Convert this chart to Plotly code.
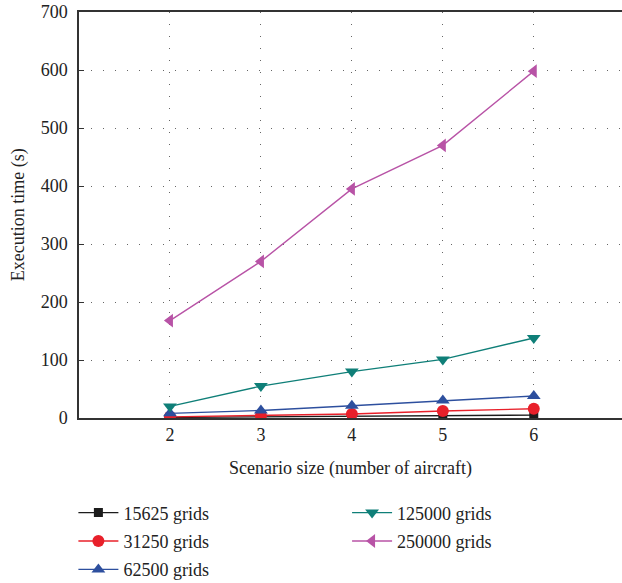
import plotly.graph_objects as go

# Scenario sizes (number of aircraft)
aircraft = [2, 3, 4, 5, 6]

# Execution time (s) per grid resolution
t_15625 = [1, 2, 3, 4, 5]
t_31250 = [2, 4, 7, 12, 16]
t_62500 = [8, 13, 21, 30, 38]
t_125000 = [20, 55, 80, 101, 138]
t_250000 = [168, 270, 395, 470, 598]

y_ticks = [0, 100, 200, 300, 400, 500, 600, 700]

series = [
    ("15625 grids", t_15625, "#1c1c1c", "square", 9, "legend"),
    ("31250 grids", t_31250, "#e8202a", "circle", 12, "legend"),
    ("62500 grids", t_62500, "#2d4f9e", "triangle-up", 12, "legend"),
    ("125000 grids", t_125000, "#0f7f78", "triangle-down", 12, "legend2"),
    ("250000 grids", t_250000, "#b853a6", "triangle-left", 12, "legend2"),
]

font_family = "Liberation Serif, Times New Roman, DejaVu Serif, serif"
fig = go.Figure()
for name, vals, color, symbol, size, leg in series:
    fig.add_trace(go.Scatter(
        x=aircraft, y=vals, name=name, mode="lines+markers",
        line=dict(color=color, width=1.4),
        marker=dict(symbol=symbol, size=size, color=color),
        legend=leg, legendgroup=name,
    ))

legend_style = dict(
    orientation="v", xanchor="left", yanchor="top",
    xref="container", yref="container",
    font=dict(family=font_family, size=18, color="#222"),
    bgcolor="rgba(0,0,0,0)", itemwidth=40, tracegroupgap=2,
)

fig.update_layout(
    width=622, height=583,
    margin=dict(l=79, r=0, t=12, b=165, autoexpand=False),
    plot_bgcolor="white", paper_bgcolor="white",
    font=dict(family=font_family, size=18, color="#222"),
    showlegend=True,
    legend=dict(x=0.118, y=0.152, **legend_style),
    legend2=dict(x=0.558, y=0.152, **legend_style),
    xaxis=dict(
        range=[1, 6.97], tickvals=aircraft, showline=True, mirror=True,
        linecolor="#333", linewidth=1.5, ticks="", zeroline=False,
        showgrid=True, gridcolor="#666", gridwidth=1, griddash="1px,11px",
        title=dict(text="Scenario size (number of aircraft)", standoff=17,
                   font=dict(size=18)),
        tickfont=dict(size=18),
    ),
    yaxis=dict(
        range=[0, 700], tickvals=y_ticks, showline=True, linecolor="#333",
        linewidth=1.5, ticks="inside", ticklen=5, tickcolor="#333",
        zeroline=False, showgrid=True, gridcolor="#666", gridwidth=1,
        griddash="1px,11px", ticklabelstandoff=6,
        tickfont=dict(size=18),
    ),
    annotations=[dict(
        text="Execution time (s)", textangle=-90, showarrow=False,
        xref="paper", yref="paper", x=-0.112, y=0.5,
        xanchor="center", yanchor="middle", font=dict(size=18),
    )],
)

fig.write_html("out.html")
